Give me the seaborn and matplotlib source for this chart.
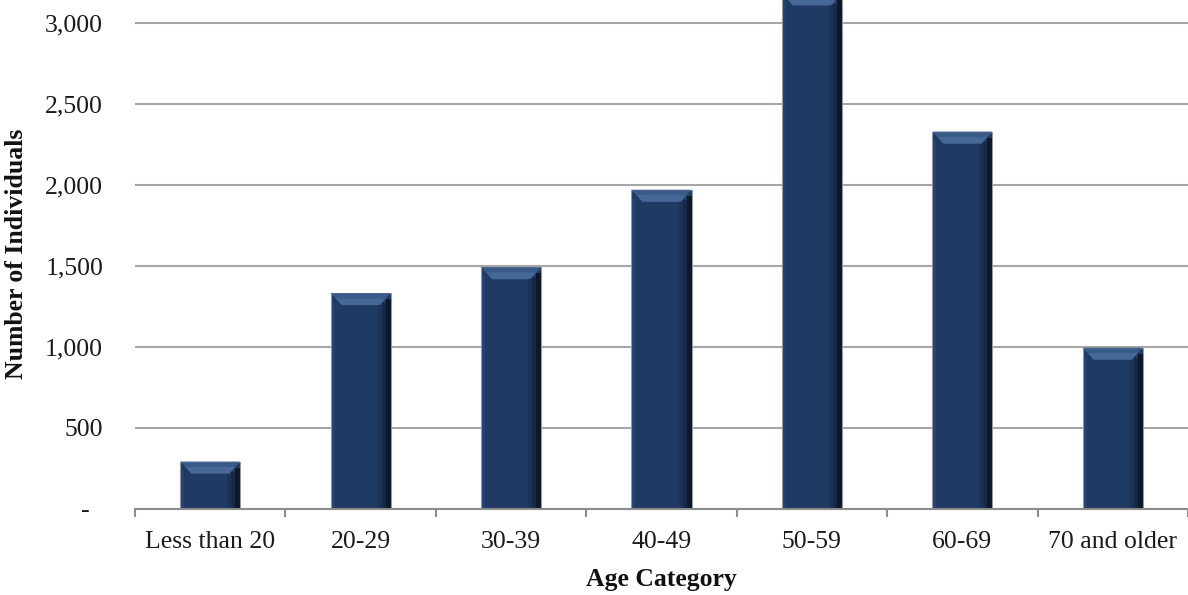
import matplotlib
matplotlib.use("Agg")
import matplotlib.pyplot as plt
import seaborn as sns
import pandas as pd
from matplotlib.patches import Polygon, Rectangle
from matplotlib.ticker import FuncFormatter, FixedLocator

categories = ["Less than 20", "20-29", "30-39", "40-49", "50-59", "60-69", "70 and older"]
values = [290, 1330, 1490, 1968, 3180, 2327, 993]
y_ticks = [0, 500, 1000, 1500, 2000, 2500, 3000]

df = pd.DataFrame({"Age Category": categories, "Number of Individuals": values})

sns.set_theme(style="white")
plt.rcParams["font.family"] = ["Liberation Serif", "DejaVu Serif"]

fig = plt.figure(figsize=(11.88, 5.95), dpi=100)
ax = fig.add_axes([135 / 1188, 86.5 / 595, 1 - 135 / 1188, 1 - 86.5 / 595])

bar_color = "#1f3a63"
sns.barplot(data=df, x="Age Category", y="Number of Individuals", order=categories,
            color=bar_color, saturation=1, width=0.4, ax=ax, zorder=3,
            edgecolor="#9a9a9a", linewidth=0.8)

ymax = 3000 + 22.5 / 162 * 1000
ax.set_ylim(0, ymax)
ax.set_xlim(-0.5, len(categories) - 0.5)

# bevel decoration derived from each bar patch
px_x = 1.0 / 150.4
px_y = 1000 / 162.0
for p in list(ax.patches):
    x0 = p.get_x()
    w = p.get_width()
    h = p.get_height()
    bh = 12 * px_y
    inset = 11 * px_x
    # top light trapezoid
    ax.add_patch(Polygon([(x0, h), (x0 + w, h), (x0 + w - inset, h - bh), (x0 + inset, h - bh)],
                         closed=True, facecolor="#3d5f8e", edgecolor="none", zorder=4, alpha=0.9))
    ax.add_patch(Polygon([(x0 + inset * 0.5, h - bh * 0.45), (x0 + w - inset * 0.5, h - bh * 0.45),
                          (x0 + w - inset, h - bh), (x0 + inset, h - bh)],
                         closed=True, facecolor="#4a6c9b", edgecolor="none", zorder=4, alpha=0.8))
    # right dark shade (gradient-like)
    ax.add_patch(Rectangle((x0 + w - 5 * px_x, 0), 5 * px_x, h - bh * 0.5,
                           facecolor="#0a1628", edgecolor="none", zorder=4, alpha=0.9))
    ax.add_patch(Rectangle((x0 + w - 9 * px_x, 0), 4 * px_x, h - bh * 0.85,
                           facecolor="#13243f", edgecolor="none", zorder=4, alpha=0.75))
    ax.add_patch(Rectangle((x0 + w - 13 * px_x, 0), 4 * px_x, h - bh,
                           facecolor="#1a2f52", edgecolor="none", zorder=4, alpha=0.6))
    # left subtle highlight
    ax.add_patch(Rectangle((x0 + 1 * px_x, 0), 3 * px_x, h - bh * 0.8,
                           facecolor="#2a4a78", edgecolor="none", zorder=4, alpha=0.6))

ax.yaxis.set_major_locator(FixedLocator(y_ticks))
ax.yaxis.set_major_formatter(FuncFormatter(lambda v, _: "-  " if v == 0 else f"{int(v):,}"))
ax.grid(axis="y", color="#a6a6a6", linewidth=1.5, zorder=0)
ax.grid(axis="x", visible=False)

for s in ["top", "right", "left"]:
    ax.spines[s].set_visible(False)
ax.spines["bottom"].set_color("#8c8c8c")
ax.spines["bottom"].set_linewidth(1.5)
ax.spines["bottom"].set_zorder(5)

fs = 18.5
ax.set_xticks(range(len(categories)))
ax.set_xticklabels(categories)
ax.set_xticks([i - 0.5 for i in range(len(categories) + 1)], minor=True)
ax.tick_params(axis="x", which="major", length=0, pad=16, labelsize=fs, labelcolor="#1a1a1a")
ax.tick_params(axis="x", which="minor", length=6, width=1.5, color="#8c8c8c", direction="out", bottom=True)
ax.tick_params(axis="y", length=0, pad=23, labelsize=fs, labelcolor="#1a1a1a")

ax.set_xlabel("Age Category", fontsize=fs, fontweight="bold", labelpad=11, color="#111111")
ax.set_ylabel("Number of Individuals", fontsize=fs, fontweight="bold", labelpad=12, color="#111111")

fig.savefig("out.png", dpi=100)
